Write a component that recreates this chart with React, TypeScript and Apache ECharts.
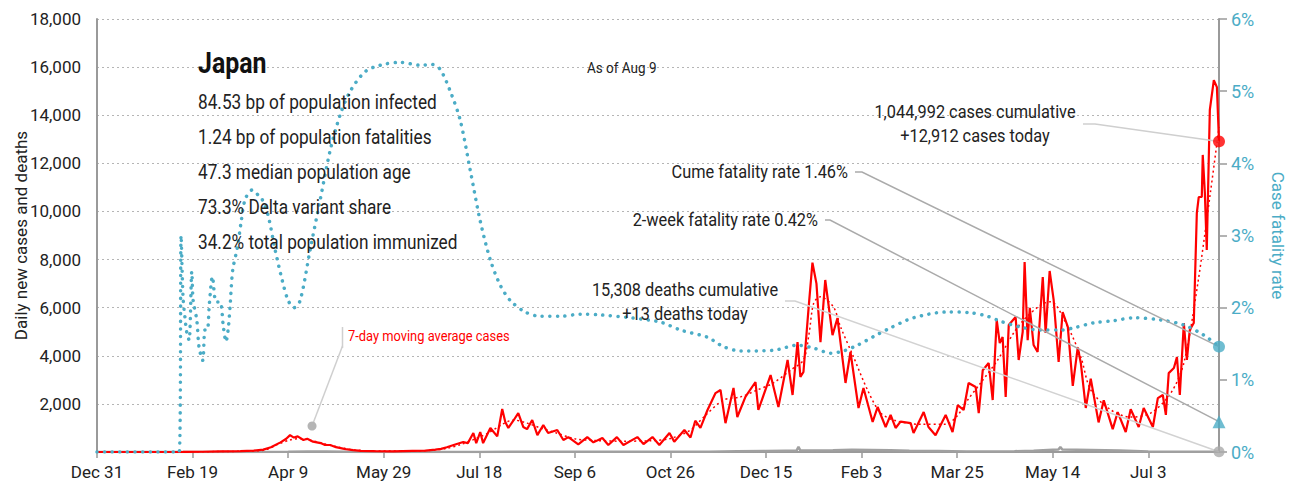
import React, { useEffect, useRef } from "react";
import * as echarts from "echarts";

// ---- axis definitions ----
const START_UTC = Date.UTC(2019, 11, 31);
const LAST_DAY = 587; // Aug 9 2021
const DAY_TICK = 50;
const MONTHS = ["Jan", "Feb", "Mar", "Apr", "May", "Jun", "Jul", "Aug", "Sep", "Oct", "Nov", "Dec"];
const LEFT_MAX = 18000;
const LEFT_STEP = 2000;
const RIGHT_MAX = 6;
const RIGHT_STEP = 1;

// ---- data: [days since Dec 31 2019, value] ----
const dailyCases: [number, number][] = [
  [0, 0], [30, 0], [45, 3], [55, 10], [65, 25], [75, 40], [82, 60], [87, 100], [91, 200], [96, 400],
  [99, 550], [101, 700], [103, 600], [105, 650], [108, 500], [110, 550], [113, 430], [117, 370], [119, 300],
  [122, 290], [125, 200], [130, 120], [134, 80], [138, 50], [145, 40], [155, 30], [165, 50], [172, 60],
  [177, 100], [180, 130], [183, 200], [187, 300], [191.6, 415], [194, 370], [196.9, 790], [198.4, 370],
  [200.5, 830], [202, 370], [205.8, 1000], [209.4, 650], [212, 1790], [213.6, 1250], [215.2, 1000],
  [217.8, 1300], [220.4, 1620], [223, 1040], [225, 950], [227.7, 1330], [230.4, 700], [233.5, 1120],
  [236, 790], [240.8, 915], [244, 500], [246.6, 620], [251.8, 320], [256.5, 620], [259.7, 400],
  [264.4, 580], [267.5, 290], [272, 620], [275.4, 290], [282.7, 620], [285.9, 330], [290.6, 620],
  [294.2, 290], [299.5, 790], [302, 430], [307.3, 915], [310.5, 600], [313, 1300], [315.7, 1000],
  [319.4, 1746], [323.6, 2450], [326.2, 2577], [328.8, 1200], [333, 2660], [335, 1455], [339.3, 2300],
  [344.5, 2910], [346, 1746], [352.4, 3200], [356.5, 1870], [361.3, 3825], [363.9, 2370], [366.5, 4570],
  [368, 3120], [369.6, 3325], [372.3, 6000], [374.3, 7870], [376.4, 7000], [378.5, 4570], [381, 7150],
  [384.8, 4860], [387.4, 5570], [391.6, 2870], [394.2, 4157], [398.4, 1830], [401, 2660], [405.8, 1250],
  [408.4, 1870], [412.6, 1040], [415.2, 1540], [417.8, 1000], [420.4, 1260], [425.7, 1200], [427.2, 790],
  [432.5, 1660], [435, 1040], [438.7, 700], [444, 1540], [447.6, 830], [450.3, 1950], [453.4, 1746],
  [456, 2870], [459.7, 2700], [461.3, 1620], [463.4, 3400], [466.5, 3700], [468.6, 2160], [470.7, 5490],
  [472.3, 4530], [473.8, 4780], [475.4, 2290], [477, 5280], [480.6, 5610], [482.2, 3825], [484.3, 4990],
  [485.3, 7900], [486.9, 4650], [488, 5990], [490, 4450], [492.1, 4160], [494.8, 7275], [496.3, 4950],
  [498.4, 7525], [500.5, 6320], [503.1, 3740], [505.2, 5820], [507.9, 5200], [510.5, 2750], [513.1, 4350],
  [514.7, 3700], [517.3, 1830], [519.9, 3050], [524, 1230], [526.7, 2150], [531.4, 950], [534, 1660],
  [538.2, 830], [540.8, 1780], [545, 1040], [547.6, 1830], [552.4, 1040], [555, 2240], [557.6, 2370],
  [559.2, 1540], [560.7, 3280], [563.4, 3490], [565, 3950], [566.5, 2370], [568.6, 5360], [570.2, 3825],
  [571.7, 5070], [573.8, 5360], [575.4, 9935], [576.4, 10600], [578, 10600], [578.5, 12350],
  [579.6, 10770], [580.6, 8400], [582.2, 14220], [584.3, 15460], [585.9, 15170], [587, 12912],
];

const avgCases: [number, number][] = [
  [0, 0], [60, 15], [80, 40], [88, 90], [95, 330], [101, 500], [106, 560], [112, 480], [118, 360],
  [125, 230], [132, 110], [140, 55], [160, 40], [175, 70], [183, 150], [190, 300], [198, 550], [205, 800],
  [212, 1150], [218, 1330], [225, 1200], [232, 1000], [240, 800], [250, 550], [260, 480], [275, 450],
  [290, 470], [300, 560], [310.5, 915], [318, 1500], [327.7, 2160], [336.6, 2290], [345.5, 2580],
  [353.9, 2870], [362.8, 3400], [369.6, 3825], [372.5, 4900], [375, 6200], [378.5, 6450], [385.3, 6030],
  [389, 5200], [395.8, 3950], [403.1, 2580], [410, 1620], [418, 1300], [431, 1150], [444, 1150],
  [450, 1500], [455.5, 2160], [462.3, 2870], [471.2, 3825], [479.6, 4950], [484.8, 5490], [493.7, 6110],
  [499, 6250], [507.9, 5200], [514.7, 3950], [519.9, 2580], [530.4, 1750], [540.8, 1450], [551.3, 1620],
  [561.8, 2450], [568.6, 3700], [575.9, 7000], [582.7, 10900], [587, 13500],
];

const dailyDeaths: [number, number][] = [
  [0, 0], [80, 1], [100, 10], [110, 20], [120, 20], [130, 10], [140, 5], [160, 2], [200, 1], [220, 8],
  [235, 15], [250, 12], [270, 8], [300, 6], [320, 15], [335, 30], [350, 45], [360, 55], [366, 60],
  [367, 210], [368, 60], [385, 70], [395, 95], [405, 85], [415, 75], [425, 55], [440, 40], [455, 25],
  [470, 25], [480, 35], [490, 50], [500, 90], [503, 100], [504, 210], [505, 100], [520, 85], [535, 60],
  [550, 25], [560, 15], [575, 10], [587, 13],
];

const fatalityRate: [number, number][] = [
  [0, 0], [43, 0], [44, 3.0], [45, 2.15], [46, 1.87], [47, 1.65], [48.2, 1.55], [49.6, 2.5], [50.3, 2.1],
  [52.2, 1.83], [53.4, 1.45], [55.3, 1.27], [56.5, 1.69], [57.7, 1.69], [58.8, 2.06], [60.4, 2.43],
  [62.3, 2.08], [64.4, 2.08], [66.1, 1.74], [67.5, 1.53], [68.7, 1.72], [69.6, 2.01], [71, 2.52],
  [73.5, 2.84], [75.2, 3.15], [77.5, 3.5], [81.2, 3.63], [84.3, 3.56], [86.4, 3.5], [89.5, 3.28],
  [93.2, 2.8], [96.9, 2.38], [100, 2.1], [103.1, 2.0], [106.3, 2.1], [111.5, 2.8], [116.8, 3.5],
  [122, 4.18], [127.2, 4.67], [132.5, 5.0], [140.3, 5.27], [148.2, 5.36], [158.6, 5.4], [169, 5.36],
  [175.4, 5.37], [179.6, 5.3], [184.8, 5.0], [190, 4.6], [195.3, 3.9], [200.5, 3.2], [205.8, 2.66],
  [211, 2.31], [216.2, 2.1], [224, 1.94], [232, 1.88], [242.4, 1.88], [252.9, 1.91], [263.4, 1.9],
  [279, 1.86], [294.8, 1.8], [305.2, 1.69], [319.4, 1.59], [327.7, 1.46], [336.6, 1.4], [354, 1.41],
  [366.5, 1.48], [374.9, 1.44], [383.8, 1.37], [390.6, 1.4], [397.9, 1.48], [406.3, 1.6], [413.6, 1.7],
  [427.2, 1.86], [445, 1.94], [457, 1.93], [466, 1.88], [472.8, 1.81], [483.2, 1.73], [493.7, 1.69],
  [504.2, 1.69], [511, 1.72], [521.5, 1.79], [532, 1.82], [542.4, 1.86], [556.5, 1.83], [568.6, 1.76],
  [579, 1.62], [587, 1.46],
];

// latest values (end markers)
const latestCases = 12912;
const latestDeaths = 13;
const cumeFatality = 1.46;
const twoWeekFatality = 0.42;
const avgLabelAnchor: [number, number] = [112.5, 1080];

// ---- texts ----
const titleText = "Japan";
const statLines = [
  "84.53 bp of population infected",
  "1.24 bp of population fatalities",
  "47.3 median population age",
  "73.3% Delta variant share",
  "34.2% total population immunized",
];
const asOfText = "As of Aug 9";
const casesNote = ["1,044,992 cases cumulative", "+12,912 cases today"];
const deathsNote = ["15,308 deaths cumulative", "+13 deaths today"];
const cumeNote = "Cume fatality rate 1.46%";
const twoWeekNote = "2-week fatality rate 0.42%";
const avgNote = "7-day moving average cases";
const leftAxisName = "Daily new cases and deaths";
const rightAxisName = "Case fatality rate";

const FONT = "Roboto, 'Liberation Sans', sans-serif";
const RED = "#ff0000";
const BLUE = "#4bacc6";
const AXIS_GRAY = "#9a9a9a";

function dayLabel(d: number): string {
  const dt = new Date(START_UTC + d * 86400000);
  return `${MONTHS[dt.getUTCMonth()]} ${dt.getUTCDate()}`;
}

export default function App() {
  const ref = useRef<HTMLDivElement>(null);

  useEffect(() => {
    if (!ref.current) return;
    const chart = echarts.init(ref.current, undefined, { renderer: "svg" });
    const option: any = {
      animation: false,
      textStyle: { fontFamily: FONT },
      grid: { left: 97, right: 76, top: 19, bottom: 41, containLabel: false, outerBoundsMode: "none" },
      xAxis: {
        type: "value",
        min: 0,
        max: LAST_DAY,
        interval: DAY_TICK,
        axisLine: { lineStyle: { color: AXIS_GRAY, width: 2 } },
        axisTick: { show: true, length: 6, lineStyle: { color: AXIS_GRAY, width: 1.5 } },
        axisLabel: {
          color: "#222",
          fontSize: 17,
          fontFamily: FONT,
          margin: 11,
          showMaxLabel: false,
          formatter: (v: number) => (v % DAY_TICK === 0 ? dayLabel(v) : ""),
        },
        splitLine: { show: false },
      },
      yAxis: [
        {
          type: "value",
          min: 0,
          max: LEFT_MAX,
          interval: LEFT_STEP,
          name: leftAxisName,
          nameLocation: "middle",
          nameGap: 68,
          nameMoveOverlap: false,
          nameRotate: 90,
          nameTextStyle: { color: "#222", fontSize: 17, fontFamily: FONT },
          axisLine: { show: true, lineStyle: { color: AXIS_GRAY, width: 2 } },
          axisTick: { show: false },
          axisLabel: {
            color: "#222",
            fontSize: 17,
            fontFamily: FONT,
            margin: 16,
            formatter: (v: number) => (v === 0 ? "" : v.toLocaleString("en-US")),
          },
          splitLine: { show: true, lineStyle: { color: "#b5b5b5", type: [2, 3], width: 1 } },
        },
        {
          type: "value",
          min: 0,
          max: RIGHT_MAX,
          interval: RIGHT_STEP,
          position: "right",
          name: rightAxisName,
          nameLocation: "middle",
          nameGap: 50,
          nameMoveOverlap: false,
          nameRotate: -90,
          nameTextStyle: { color: BLUE, fontSize: 17, fontFamily: FONT },
          axisLine: { show: true, lineStyle: { color: AXIS_GRAY, width: 2 } },
          axisTick: { show: true, length: 8, lineStyle: { color: AXIS_GRAY, width: 1.5 } },
          axisLabel: { color: BLUE, fontSize: 18, fontFamily: FONT, margin: 12, formatter: "{value}%" },
          splitLine: { show: false },
        },
      ],
      series: [
        {
          type: "line",
          name: "deaths",
          data: dailyDeaths,
          yAxisIndex: 0,
          symbol: "none",
          lineStyle: { color: "#a0a0a0", width: 2.5 },
          z: 2,
        },
        {
          type: "line",
          name: "avg",
          data: avgCases,
          yAxisIndex: 0,
          symbol: "none",
          smooth: 0.3,
          lineStyle: { color: RED, width: 1.5, type: [2, 3] },
          z: 3,
        },
        {
          type: "line",
          name: "cases",
          data: dailyCases,
          yAxisIndex: 0,
          symbol: "none",
          lineStyle: { color: RED, width: 2.2 },
          z: 4,
        },
        {
          type: "line",
          name: "cfr",
          data: fatalityRate,
          yAxisIndex: 1,
          symbol: "none",
          smooth: 0.3,
          lineStyle: { color: BLUE, width: 3.5, type: [0.1, 7.5], cap: "round" },
          z: 5,
        },
        {
          type: "scatter",
          name: "caseEnd",
          yAxisIndex: 0,
          data: [[LAST_DAY, latestCases]],
          symbol: "circle",
          symbolSize: 12,
          itemStyle: { color: RED },
          clip: false,
          z: 10,
        },
        {
          type: "scatter",
          name: "deathEnd",
          yAxisIndex: 0,
          data: [[LAST_DAY, latestDeaths]],
          symbol: "circle",
          symbolSize: 11,
          itemStyle: { color: "#aaaaaa" },
          clip: false,
          z: 10,
        },
        {
          type: "scatter",
          name: "cfrEnd",
          yAxisIndex: 1,
          data: [[LAST_DAY, cumeFatality]],
          symbol: "circle",
          symbolSize: 12,
          itemStyle: { color: BLUE },
          clip: false,
          z: 10,
        },
        {
          type: "scatter",
          name: "cfr2wEnd",
          yAxisIndex: 1,
          data: [[LAST_DAY, twoWeekFatality]],
          symbol: "triangle",
          symbolSize: 13,
          itemStyle: { color: BLUE },
          clip: false,
          z: 10,
        },
      ],
    };
    chart.setOption(option);

    const px = (seriesIndex: number, v: [number, number]) =>
      chart.convertToPixel({ seriesIndex }, v) as number[];
    const caseEnd = px(4, [LAST_DAY, latestCases]);
    const deathEnd = px(5, [LAST_DAY, latestDeaths]);
    const cfrEnd = px(6, [LAST_DAY, cumeFatality]);
    const cfr2wEnd = px(7, [LAST_DAY, twoWeekFatality]);
    const avgDot = px(1, avgLabelAnchor);

    const txt = (
      x: number, y: number, text: string, size: number, sx: number,
      align = "left", color = "#222", weight = "normal"
    ) => ({
      type: "text",
      x,
      y,
      scaleX: sx,
      z: 20,
      style: { text, fontSize: size, fontFamily: FONT, fill: color, align, verticalAlign: "middle", fontWeight: weight },
    });
    const lead = (points: number[][], color: string) => ({
      type: "polyline",
      z: 8,
      shape: { points },
      style: { stroke: color, lineWidth: 1.5, fill: "none" },
    });

    const graphics: any[] = [
      txt(198, 63, titleText, 29, 0.86, "left", "#111", "bold"),
      ...statLines.map((s, i) => txt(198, 102 + i * 35, s, 21, 0.82)),
      txt(587, 68, asOfText, 15, 0.9),
      txt(975, 112, casesNote[0], 19, 0.86, "center"),
      txt(975, 136, casesNote[1], 19, 0.86, "center"),
      txt(848, 172, cumeNote, 19, 0.86, "right"),
      txt(818, 220, twoWeekNote, 19, 0.86, "right"),
      txt(685, 290, deathsNote[0], 19, 0.86, "center"),
      txt(685, 314, deathsNote[1], 19, 0.86, "center"),
      txt(348, 336, avgNote, 14, 0.92, "left", RED),
      lead([[1083, 124], [1095, 124], caseEnd], "#cfcfcf"),
      lead([[855, 172], [862, 172], cfrEnd], "#aaaaaa"),
      lead([[825, 220], [830, 220], cfr2wEnd], "#aaaaaa"),
      lead([[785, 301], [795, 301], deathEnd], "#d2d2d2"),
      lead([[342.5, 327], [342.5, 348]], "#cfcfcf"),
      lead([[342.5, 346], avgDot], "#cfcfcf"),
      { type: "circle", z: 9, shape: { cx: avgDot[0], cy: avgDot[1], r: 4.5 }, style: { fill: "#b5b5b5" } },
    ];
    chart.setOption({ graphic: graphics });

    return () => chart.dispose();
  }, []);

  return (
    <div
      ref={ref}
      style={{ position: "fixed", left: 0, top: 0, width: 1295, height: 493, background: "#fff" }}
    />
  );
}
